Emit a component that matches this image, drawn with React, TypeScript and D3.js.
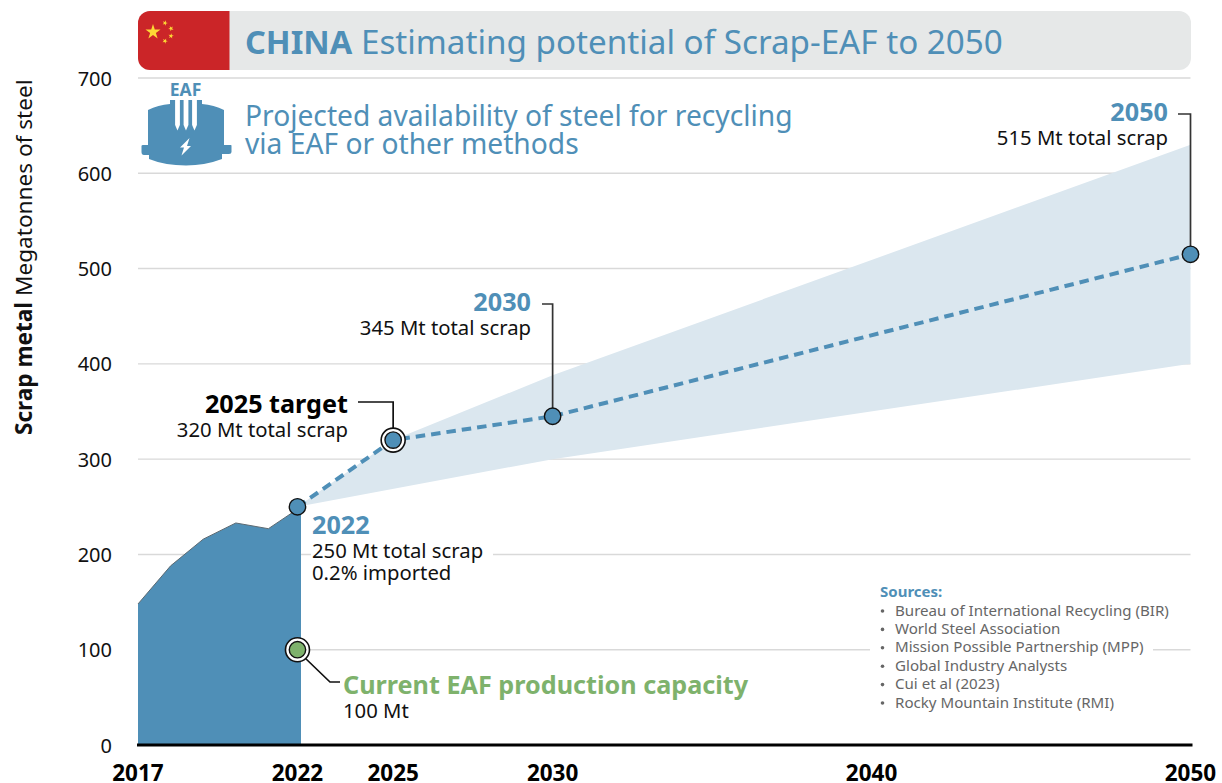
import React from "react";
import * as d3 from "d3";

// Historic scrap availability, 2017-2022 (Mt)
const historyYears = [2017, 2018, 2019, 2020, 2021, 2022];
const historyValues = [148, 188, 216, 233, 227, 250];

// Projected central path (Mt)
const projectionYears = [2022, 2025, 2030, 2050];
const projectionValues = [250, 320, 345, 515];

// Range of the projection (Mt)
const upperYears = [2022, 2025, 2030, 2050];
const upperValues = [250, 320, 388, 630];
const lowerYears = [2022, 2030, 2050];
const lowerValues = [250, 300, 400];

const eafCapacity = 100;
const capacityYear = 2022;

const yTicks = [0, 100, 200, 300, 400, 500, 600, 700];
const xTicks = [2017, 2022, 2025, 2030, 2040, 2050];

const sources = [
  "Bureau of International Recycling (BIR)",
  "World Steel Association",
  "Mission Possible Partnership (MPP)",
  "Global Industry Analysts",
  "Cui et al (2023)",
  "Rocky Mountain Institute (RMI)",
];

const BLUE = "#4f8fb7";
const BAND = "#dbe7ef";
const GREEN = "#7eb26c";
const GRID = "#d9d9d9";
const INK = "#111111";
const LEADER = "#333333";
const FONT = "'Noto Sans', sans-serif";

const x = d3.scaleLinear().domain([2017, 2050]).range([138, 1190.5]);
const y = d3.scaleLinear().domain([0, 700]).range([745, 78]);
// The historic block is drawn slightly wider than its axis span, so it covers the 2022 marker.
const xHistory = d3.scaleLinear().domain([2017, 2022]).range([138, 301]);

const areaPath = d3
  .area<number>()
  .x((_, i) => xHistory(historyYears[i]))
  .y0(y(0))
  .y1((d) => y(d))(historyValues)!;
const topEdge = d3
  .line<number>()
  .x((_, i) => xHistory(historyYears[i]))
  .y((d) => y(d))(historyValues)!;

const bandPoints: [number, number][] = [
  ...upperYears.map((yr, i): [number, number] => [x(yr), y(upperValues[i])]),
  ...lowerYears
    .map((yr, i): [number, number] => [x(yr), y(lowerValues[i])])
    .reverse(),
];
const bandPath = d3.line()(bandPoints)! + "Z";
const projectionPath = d3
  .line<number>()
  .x((_, i) => x(projectionYears[i]))
  .y((d) => y(d))(projectionValues)!;

const star = (size: number) => d3.symbol(d3.symbolStar, size)()!;

function Marker({ year, value, fill = BLUE, ring = false }: { year: number; value: number; fill?: string; ring?: boolean }) {
  return (
    <g transform={`translate(${x(year)},${y(value)})`}>
      {ring && <circle r={12} fill="#fff" stroke={INK} strokeWidth={1.6} />}
      <circle r={8.2} fill={fill} stroke={INK} strokeWidth={1.4} />
    </g>
  );
}

function Callout({ tx, ty, anchor, head, headFill, lines }: { tx: number; ty: number; anchor: "start" | "end"; head: string; headFill: string; lines: string[] }) {
  return (
    <g textAnchor={anchor}>
      <text x={tx} y={ty} fontSize={25.2} fontWeight={700} fill={headFill}>
        {head}
      </text>
      {lines.map((l, i) => (
        <text key={l} x={tx} y={ty + 24 + i * 22} fontSize={20.3} fill={INK}>
          {l}
        </text>
      ))}
    </g>
  );
}

export default function App() {
  return (
    <svg
      width={1222}
      height={783}
      viewBox="0 0 1222 783"
      fontFamily={FONT}
      style={{ position: "absolute", left: 0, top: 0, display: "block", background: "#fff" }}
    >
      {/* Gridlines, broken where annotation text sits on them */}
      <g stroke={GRID} strokeWidth={1.4}>
        {yTicks.slice(1).map((t) => (
          <line key={t} x1={138} x2={1190.5} y1={y(t)} y2={y(t)} />
        ))}
      </g>
      <rect x={311} y={545} width={182} height={18} fill="#fff" />
      <rect x={870} y={642} width={283} height={16} fill="#fff" />

      <path d={bandPath} fill={BAND} />
      <path d={areaPath} fill={BLUE} />
      <path d={topEdge} fill="none" stroke="#5d6a72" strokeWidth={1} />

      {/* X axis */}
      <line x1={137} x2={1192.5} y1={745} y2={745} stroke="#000" strokeWidth={3} />
      <g fontSize={22.5} fontWeight={700} textAnchor="middle" fill="#000">
        {xTicks.map((t) => (
          <text key={t} x={x(t)} y={781}>
            {t}
          </text>
        ))}
      </g>

      {/* Y axis */}
      <g fontSize={20} textAnchor="end" fill={INK}>
        {yTicks.map((t) => (
          <text key={t} x={112} y={y(t) + 7.5}>
            {t}
          </text>
        ))}
      </g>
      <text transform="translate(31.5,435) rotate(-90)" fontSize={22.6} fill={INK}>
        <tspan fontWeight={700}>Scrap metal</tspan> Megatonnes of steel
      </text>

      {/* Heading bar with flag */}
      <rect x={138} y={11} width={1053} height={59} rx={12} fill="#e6e8e8" />
      <path d="M229.5 11H150a12 12 0 0 0-12 12v35a12 12 0 0 0 12 12h79.5Z" fill="#cb2528" />
      <g fill="#fdd835">
        <path d={star(70)} transform="translate(153,32)" />
        <path d={star(9)} transform="translate(165,23) rotate(20)" />
        <path d={star(9)} transform="translate(171,28.5) rotate(45)" />
        <path d={star(9)} transform="translate(171,36) rotate(10)" />
        <path d={star(9)} transform="translate(165,41) rotate(25)" />
      </g>
      <text x={245} y={54} fontSize={33.2} fill={BLUE}>
        <tspan fontWeight={700} fontSize={32.5}>CHINA</tspan> Estimating potential of Scrap-EAF to 2050
      </text>

      {/* Furnace pictogram */}
      <g fill={BLUE}>
        <text x={185.5} y={96} fontSize={17.5} fontWeight={700} textAnchor="middle">
          EAF
        </text>
        <path d="M148 110Q158 105 170 104V100H202V104Q214 105 224 110V145H231Q231.5 145 231.5 146V152Q231.5 154 229 154H222V159Q205 165.5 186 165.5Q165 165.5 149 159V155H144Q141.5 155 141.5 152V146Q141.5 145 143 145H148Z" />
      </g>
      <g fill="#fff">
        {[177.5, 186, 194.5].map((cx) => (
          <path key={cx} d={`M${cx - 2.4} 100H${cx + 2.4}V125L${cx} 130.5L${cx - 2.4} 125Z`} />
        ))}
        <path d="M189.5 138L180 147.5H184L181.5 155.5L191 146H187Z" />
      </g>

      <g fontSize={28.2} fill={BLUE}>
        <text x={245} y={126}>
          Projected availability of steel for recycling
        </text>
        <text x={245} y={154}>
          via EAF or other methods
        </text>
      </g>

      {/* Projection */}
      <path d={projectionPath} fill="none" stroke={BLUE} strokeWidth={4} strokeDasharray="9.5 6" />

      {/* Leaders */}
      <g fill="none" stroke={LEADER} strokeWidth={1.7}>
        <path d={`M1178 114H${x(2050)}V${y(515)}`} />
        <path d={`M542 304H${x(2030)}V${y(345)}`} />
        <path d={`M358 402H${x(2025)}V${y(320)}`} stroke={INK} />
        <path d={`M304 657L330 682H340`} stroke={INK} />
      </g>

      <Marker year={projectionYears[0]} value={projectionValues[0]} />
      <Marker year={projectionYears[1]} value={projectionValues[1]} ring />
      <Marker year={projectionYears[2]} value={projectionValues[2]} />
      <Marker year={projectionYears[3]} value={projectionValues[3]} />
      <Marker year={capacityYear} value={eafCapacity} fill={GREEN} ring />

      {/* Annotations */}
      <Callout tx={1168} ty={121} anchor="end" head="2050" headFill={BLUE} lines={["515 Mt total scrap"]} />
      <Callout tx={531} ty={311} anchor="end" head="2030" headFill={BLUE} lines={["345 Mt total scrap"]} />
      <Callout tx={348} ty={413} anchor="end" head="2025 target" headFill="#000" lines={["320 Mt total scrap"]} />
      <Callout tx={312} ty={534} anchor="start" head="2022" headFill={BLUE} lines={["250 Mt total scrap", "0.2% imported"]} />
      <Callout tx={343} ty={694} anchor="start" head="Current EAF production capacity" headFill={GREEN} lines={["100 Mt"]} />

      {/* Source list */}
      <text x={880} y={597} fontSize={15} fontWeight={700} fill={BLUE}>
        Sources:
      </text>
      <g fontSize={15.1} fill="#666666">
        {sources.map((s, i) => (
          <g key={s}>
            <circle cx={882.5} cy={611 + i * 18.4} r={1.8} />
            <text x={895} y={615.5 + i * 18.4}>
              {s}
            </text>
          </g>
        ))}
      </g>
    </svg>
  );
}
